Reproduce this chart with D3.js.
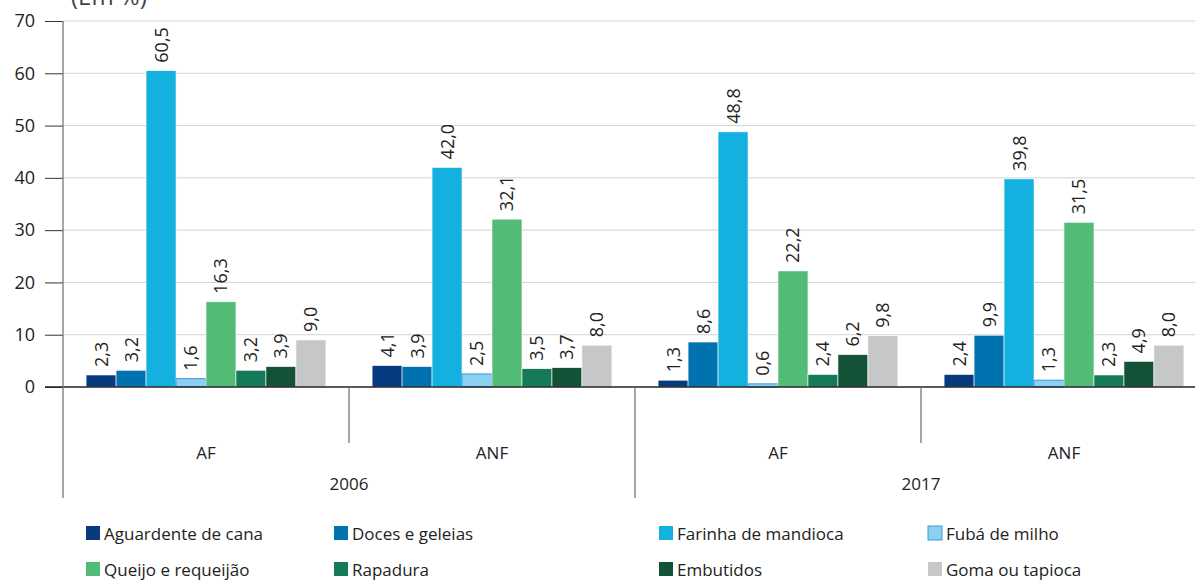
<!DOCTYPE html>
<html>
<head>
<meta charset="utf-8">
<script src="https://cdn.jsdelivr.net/npm/d3@7"></script>
<style>
  body { margin: 0; background: #fff; }
  svg { display: block; font-family: "Open Sans", sans-serif; }
</style>
</head>
<body>
<script>
// categorias do eixo x
const years = ["2006", "2017"];
const groups = ["AF", "ANF"];
const series = ["Aguardente de cana", "Doces e geleias", "Farinha de mandioca", "Fubá de milho",
  "Queijo e requeijão", "Rapadura", "Embutidos", "Goma ou tapioca"];

// valores (em %) por ano / grupo, na ordem das séries
const v2006AF  = [2.3, 3.2, 60.5, 1.6, 16.3, 3.2, 3.9, 9.0];
const v2006ANF = [4.1, 3.9, 42.0, 2.5, 32.1, 3.5, 3.7, 8.0];
const v2017AF  = [1.3, 8.6, 48.8, 0.6, 22.2, 2.4, 6.2, 9.8];
const v2017ANF = [2.4, 9.9, 39.8, 1.3, 31.5, 2.3, 4.9, 8.0];

const yTicks = [0, 10, 20, 30, 40, 50, 60, 70];

const colors = ["#083a80", "#0072b0", "#14b0df", "#8bd0f0", "#52bc76", "#157a58", "#135237", "#c6c7c9"];

const blocks = [
  {year: "2006", group: "AF", values: v2006AF},
  {year: "2006", group: "ANF", values: v2006ANF},
  {year: "2017", group: "AF", values: v2017AF},
  {year: "2017", group: "ANF", values: v2017ANF},
];
blocks.forEach(b => b.key = b.year + "-" + b.group);

const width = 1195, height = 583;
const plotLeft = 63, plotRight = 1207, plotTop = 21, zeroY = 387;

const svg = d3.select("body").append("svg")
  .attr("width", width)
  .attr("height", height);

const x0 = d3.scaleBand()
  .domain(blocks.map(b => b.key))
  .range([plotLeft, plotRight]);

const x1 = d3.scaleBand()
  .domain(series)
  .range([0, x0.bandwidth()])
  .paddingInner(0)
  .paddingOuter(0.77);

const y = d3.scaleLinear()
  .domain([0, 70])
  .range([zeroY, plotTop]);

const fmt = v => d3.format(".1f")(v).replace(".", ",");

// grade
svg.append("g")
  .selectAll("line")
  .data(yTicks.filter(t => t > 0))
  .join("line")
  .attr("x1", plotLeft).attr("x2", width)
  .attr("y1", d => y(d)).attr("y2", d => y(d))
  .attr("stroke", "#d3d3d3")
  .attr("stroke-width", 1);

// eixo y
const yAxis = svg.append("g")
  .attr("transform", `translate(${plotLeft},0)`)
  .call(d3.axisLeft(y).tickValues(yTicks).tickSize(18).tickPadding(10).tickFormat(d3.format("d")));
yAxis.select(".domain").remove();
yAxis.selectAll(".tick line").attr("stroke", "#333");
yAxis.selectAll(".tick text").attr("font-size", 18).attr("fill", "#222")
  .attr("font-family", "Open Sans, sans-serif");

// barras
const bg = svg.append("g")
  .selectAll("g")
  .data(blocks)
  .join("g")
  .attr("transform", d => `translate(${x0(d.key)},0)`);

bg.selectAll("rect")
  .data(d => d.values.map((v, i) => ({name: series[i], value: v, i})))
  .join("rect")
  .attr("x", d => x1(d.name))
  .attr("y", d => y(d.value))
  .attr("width", x1.bandwidth())
  .attr("height", d => y(0) - y(d.value))
  .attr("fill", d => colors[d.i])
  .attr("stroke", d => d.i === 3 ? "#3a9bd8" : "#fff")
  .attr("stroke-width", d => d.i === 3 ? 1 : 0.6);

bg.selectAll("text")
  .data(d => d.values.map((v, i) => ({name: series[i], value: v, i})))
  .join("text")
  .attr("transform", d => `translate(${x1(d.name) + x1.bandwidth() / 2},${y(d.value) - 8}) rotate(-90)`)
  .attr("dy", "0.36em")
  .attr("font-size", 18)
  .attr("fill", "#222")
  .text(d => fmt(d.value));

// eixo zero e eixo vertical
svg.append("line")
  .attr("x1", 45).attr("x2", width)
  .attr("y1", zeroY).attr("y2", zeroY)
  .attr("stroke", "#222").attr("stroke-width", 1.3);

svg.append("line")
  .attr("x1", plotLeft).attr("x2", plotLeft)
  .attr("y1", plotTop).attr("y2", 498)
  .attr("stroke", "#777").attr("stroke-width", 1.3);

// separadores das categorias
const seps = blocks.slice(1).map(b => ({x: x0(b.key), long: b.group === "AF"}));
svg.append("g")
  .selectAll("line")
  .data(seps)
  .join("line")
  .attr("x1", d => d.x).attr("x2", d => d.x)
  .attr("y1", zeroY).attr("y2", d => d.long ? 498 : 443)
  .attr("stroke", "#777").attr("stroke-width", 1.3);

svg.append("g")
  .selectAll("text")
  .data(blocks)
  .join("text")
  .attr("x", d => x0(d.key) + x0.bandwidth() / 2)
  .attr("y", 459)
  .attr("text-anchor", "middle")
  .attr("font-size", 17)
  .attr("fill", "#222")
  .text(d => d.group);

svg.append("g")
  .selectAll("text")
  .data(years)
  .join("text")
  .attr("x", yr => x0(yr + "-AF") + x0.bandwidth())
  .attr("y", 490)
  .attr("text-anchor", "middle")
  .attr("font-size", 17)
  .attr("fill", "#222")
  .text(yr => yr);

// título (cortado no topo, como no original)
svg.append("text")
  .attr("x", 71).attr("y", 5)
  .attr("font-size", 24)
  .attr("fill", "#444")
  .text("(Em %)");

// legenda
const legX = [86, 334, 659, 928];
const legY = [526, 562];
const leg = svg.append("g")
  .selectAll("g")
  .data(series)
  .join("g")
  .attr("transform", (d, i) => `translate(${legX[i % 4]},${legY[Math.floor(i / 4)]})`);

leg.append("rect")
  .attr("width", 14).attr("height", 14)
  .attr("fill", (d, i) => colors[i])
  .attr("stroke", (d, i) => i === 3 ? "#3a9bd8" : "none")
  .attr("stroke-width", 1);

leg.append("text")
  .attr("x", 18).attr("y", 8)
  .attr("dy", "0.35em")
  .attr("font-size", 17)
  .attr("fill", "#222")
  .text(d => d);
</script>
</body>
</html>
